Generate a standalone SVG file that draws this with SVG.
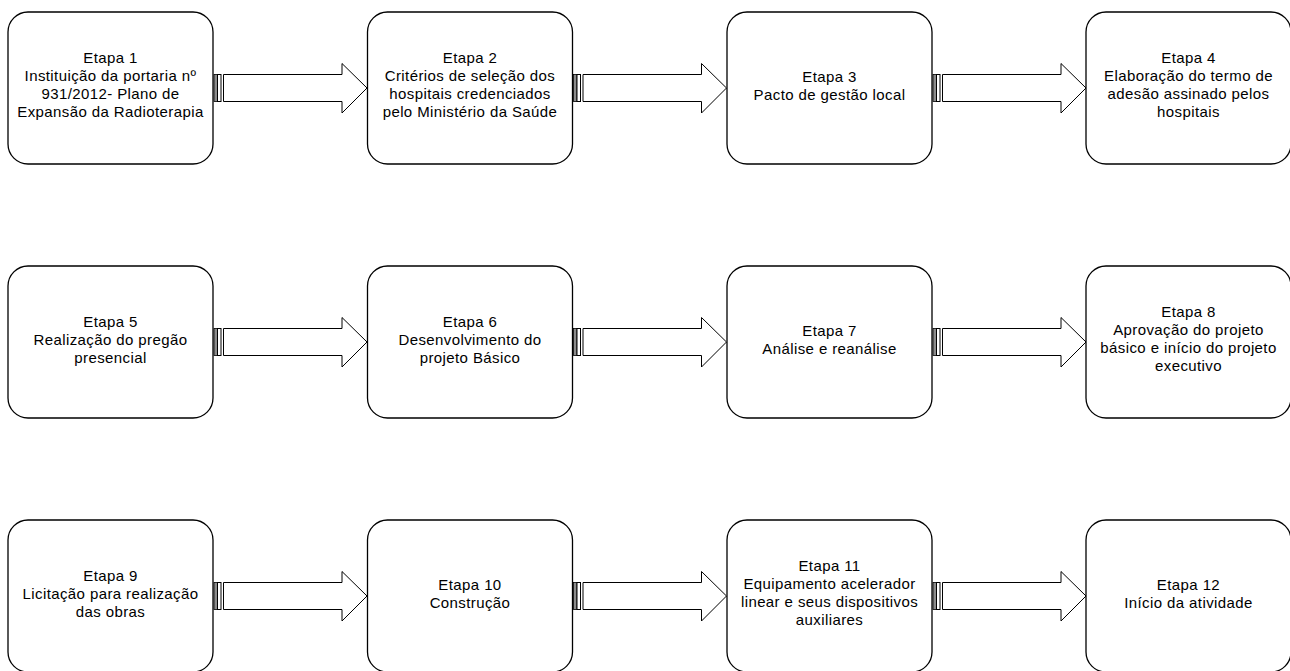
<svg xmlns="http://www.w3.org/2000/svg" xmlns:xlink="http://www.w3.org/1999/xlink" width="1290" height="671" viewBox="0 0 1290 671">
<style>
.box{fill:#fff;stroke:#000;stroke-width:1.3}
.t{font-family:"Liberation Sans",Arial,sans-serif;font-size:15px;letter-spacing:0.4px;fill:#000;text-anchor:middle}
.ar{fill:#fff;stroke:#000;stroke-width:1}
.st{fill:#8c8c8c;stroke:#000;stroke-width:0.8}
</style>
<defs>
<g id="arrow">
<rect class="st" x="1" y="-13.5" width="3.5" height="27"/>
<rect class="ar" x="4.5" y="-13.5" width="3.5" height="27"/>
<polygon class="ar" points="10.5,-13.5 129,-13.5 129,-24.5 154,0 129,25 129,13.5 10.5,13.5"/>
</g>
</defs>
<rect width="1290" height="671" fill="#fff"/>
<g id="connectors">
<use xlink:href="#arrow" transform="translate(213,88)"/>
<use xlink:href="#arrow" transform="translate(572.5,88)"/>
<use xlink:href="#arrow" transform="translate(932,88)"/>
<use xlink:href="#arrow" transform="translate(213,342)"/>
<use xlink:href="#arrow" transform="translate(572.5,342)"/>
<use xlink:href="#arrow" transform="translate(932,342)"/>
<use xlink:href="#arrow" transform="translate(213,596)"/>
<use xlink:href="#arrow" transform="translate(572.5,596)"/>
<use xlink:href="#arrow" transform="translate(932,596)"/>
</g>
<g id="node1"><rect class="box" x="8" y="12" width="205" height="152" rx="20"/>
<text class="t"><tspan x="110.5" y="63">Etapa 1</tspan><tspan x="110.5" y="81">Instituição da portaria nº</tspan><tspan x="110.5" y="99">931/2012- Plano de</tspan><tspan x="110.5" y="117">Expansão da Radioterapia</tspan></text></g>
<g id="node2"><rect class="box" x="367.5" y="12" width="205" height="152" rx="20"/>
<text class="t"><tspan x="470" y="63">Etapa 2</tspan><tspan x="470" y="81">Critérios de seleção dos</tspan><tspan x="470" y="99">hospitais credenciados</tspan><tspan x="470" y="117">pelo Ministério da Saúde</tspan></text></g>
<g id="node3"><rect class="box" x="727" y="12" width="205" height="152" rx="20"/>
<text class="t"><tspan x="829.5" y="82">Etapa 3</tspan><tspan x="829.5" y="100">Pacto de gestão local</tspan></text></g>
<g id="node4"><rect class="box" x="1086" y="12" width="205" height="152" rx="20"/>
<text class="t"><tspan x="1188.5" y="63">Etapa 4</tspan><tspan x="1188.5" y="81">Elaboração do termo de</tspan><tspan x="1188.5" y="99">adesão assinado pelos</tspan><tspan x="1188.5" y="117">hospitais</tspan></text></g>
<g id="node5"><rect class="box" x="8" y="266" width="205" height="152" rx="20"/>
<text class="t"><tspan x="110.5" y="327">Etapa 5</tspan><tspan x="110.5" y="345">Realização do pregão</tspan><tspan x="110.5" y="363">presencial</tspan></text></g>
<g id="node6"><rect class="box" x="367.5" y="266" width="205" height="152" rx="20"/>
<text class="t"><tspan x="470" y="327">Etapa 6</tspan><tspan x="470" y="345">Desenvolvimento do</tspan><tspan x="470" y="363">projeto Básico</tspan></text></g>
<g id="node7"><rect class="box" x="727" y="266" width="205" height="152" rx="20"/>
<text class="t"><tspan x="829.5" y="336">Etapa 7</tspan><tspan x="829.5" y="354">Análise e reanálise</tspan></text></g>
<g id="node8"><rect class="box" x="1086" y="266" width="205" height="152" rx="20"/>
<text class="t"><tspan x="1188.5" y="317">Etapa 8</tspan><tspan x="1188.5" y="335">Aprovação do projeto</tspan><tspan x="1188.5" y="353">básico e início do projeto</tspan><tspan x="1188.5" y="371">executivo</tspan></text></g>
<g id="node9"><rect class="box" x="8" y="520" width="205" height="152" rx="20"/>
<text class="t"><tspan x="110.5" y="581">Etapa 9</tspan><tspan x="110.5" y="599">Licitação para realização</tspan><tspan x="110.5" y="617">das obras</tspan></text></g>
<g id="node10"><rect class="box" x="367.5" y="520" width="205" height="152" rx="20"/>
<text class="t"><tspan x="470" y="590">Etapa 10</tspan><tspan x="470" y="608">Construção</tspan></text></g>
<g id="node11"><rect class="box" x="727" y="520" width="205" height="152" rx="20"/>
<text class="t"><tspan x="829.5" y="571">Etapa 11</tspan><tspan x="829.5" y="589">Equipamento acelerador</tspan><tspan x="829.5" y="607">linear e seus dispositivos</tspan><tspan x="829.5" y="625">auxiliares</tspan></text></g>
<g id="node12"><rect class="box" x="1086" y="520" width="205" height="152" rx="20"/>
<text class="t"><tspan x="1188.5" y="590">Etapa 12</tspan><tspan x="1188.5" y="608">Início da atividade</tspan></text></g>
</svg>
